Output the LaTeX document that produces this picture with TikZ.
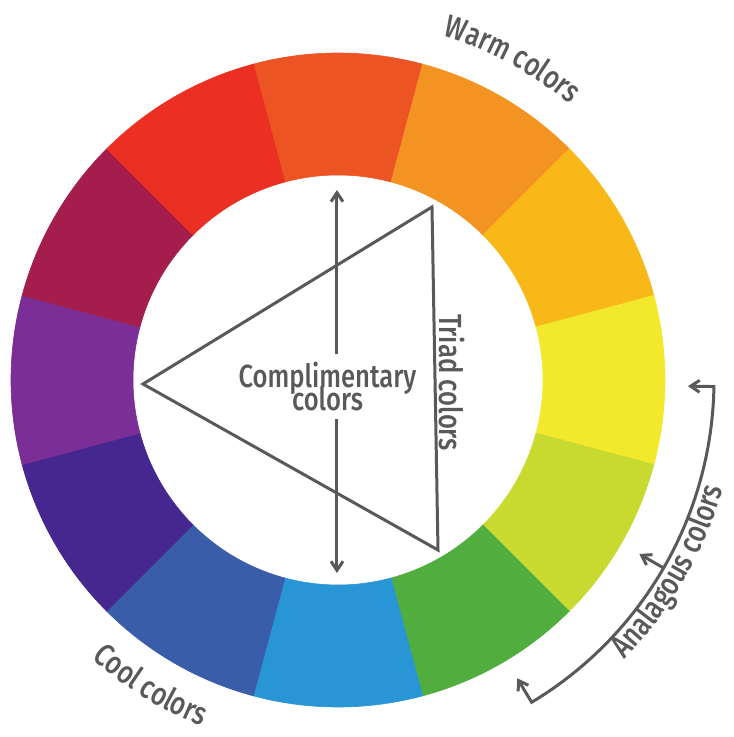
\documentclass[tikz,border=0pt]{standalone}
\usepackage{fontspec}
\newfontfamily\labelfamily[FakeStretch=0.8, UprightFont={* Medium}]{Fira Sans}
\usetikzlibrary{arrows.meta, decorations.text}

\definecolor{inkgray}{HTML}{58595B}
\definecolor{wRedOrange}{HTML}{EC5424}
\definecolor{wOrange}{HTML}{F39422}
\definecolor{wAmber}{HTML}{F8B817}
\definecolor{wYellow}{HTML}{F2E82C}
\definecolor{wLime}{HTML}{C8DA2F}
\definecolor{wGreen}{HTML}{50AD3E}
\definecolor{wSky}{HTML}{2896D5}
\definecolor{wBlue}{HTML}{3A5DAA}
\definecolor{wIndigo}{HTML}{46278F}
\definecolor{wPurple}{HTML}{7B2E95}
\definecolor{wCrimson}{HTML}{A41D4C}
\definecolor{wRed}{HTML}{EB2F22}

\newcommand\lblfont{\labelfamily\fontsize{32}{23}\selectfont\lineskiplimit=-100pt}

\begin{document}
\begin{tikzpicture}[
  x=1pt, y=1pt,
  lbl/.style={font=\lblfont, text=inkgray, align=center},
  arr/.style={-{Straight Barb[length=9pt, width=12pt]}, line width=3pt, draw=inkgray},
  tri/.style={line width=3pt, draw=inkgray, line join=miter},
  seg/.style={fill=#1, draw=#1, line width=0.6pt},
  curved/.style={decorate, decoration={text along path, text align=center,
                 text={|\lblfont\color{inkgray}|#1}}},
]
\useasboundingbox (-338,-357) rectangle (396,380);

% ---------------------------------------------------------------- colour wheel
\foreach \ang/\col in {90/wRedOrange, 60/wOrange, 30/wAmber, 0/wYellow, -30/wLime, -60/wGreen,
                       -90/wSky, -120/wBlue, -150/wIndigo, 180/wPurple, 150/wCrimson, 120/wRed}{
  \fill[seg=\col] ({\ang-15}:205) arc[start angle={\ang-15}, end angle={\ang+15}, radius=205]
       -- ({\ang+15}:327) arc[start angle={\ang+15}, end angle={\ang-15}, radius=327] -- cycle;
}

% ---------------------------------------------------------------- triad
\coordinate (tri-top)   at (94,173);
\coordinate (tri-left)  at (-195,-4);
\coordinate (tri-bot)   at (100,-170);
\draw[tri] (tri-top) -- (tri-left) -- (tri-bot) -- cycle;
\node[lbl, rotate=-90, inner sep=0pt] (triad) at (114,-2.5) {Triad colors};

% ---------------------------------------------------------------- complementary
\node[lbl, inner sep=8pt] (compl) at (-10.5,-6.5) {Complimentary\\colors};
\coordinate (comp-top) at (-1,190);
\coordinate (comp-bot) at (-1,-193);
\draw[arr] (compl.north -| comp-top) -- (comp-top);
\draw[arr] (compl.south -| comp-bot) -- (comp-bot);

% ---------------------------------------------------------------- analogous
\coordinate (ana-top) at (-1:376);
\coordinate (ana-mid) at (-30:376);
\coordinate (ana-bot) at (-59:376);
\coordinate (tip-top) at (-1:350);
\coordinate (tip-mid) at (-30:348);
\coordinate (tip-bot) at (-59:348);
\draw[arr, {Straight Barb[length=9pt, width=12pt]}-{Straight Barb[length=9pt, width=12pt]}]
     (tip-top) -- (ana-top) arc[start angle=-1, end angle=-59, radius=376] -- (tip-bot);
\draw[arr] (ana-mid) -- (tip-mid);

% ---------------------------------------------------------------- curved labels
\path[curved={Warm colors}] (80:360) arc[start angle=80, end angle=43, radius=360];
\path[curved={Cool colors}] (220:372) arc[start angle=220, end angle=257, radius=372];
\path[curved={Analagous colors}] (-52:400) arc[start angle=-52, end angle=-8, radius=400];

\end{tikzpicture}
\end{document}
